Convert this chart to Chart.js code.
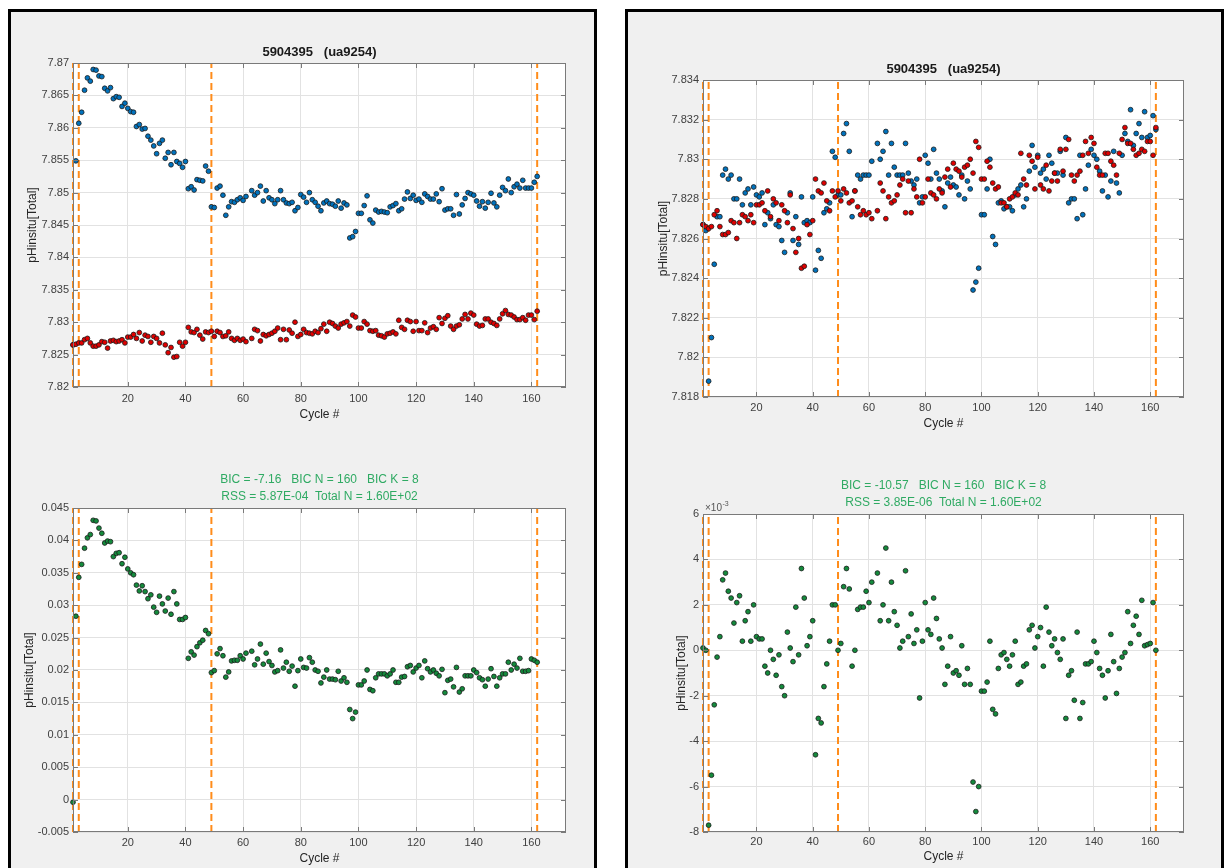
<!DOCTYPE html>
<html>
<head>
<meta charset="utf-8">
<title>5904395 (ua9254) pHinsitu</title>
<script src="https://cdn.jsdelivr.net/npm/chart.js@4.4.0/dist/chart.umd.min.js"></script>
<style>
  html, body { margin: 0; padding: 0; background: #fff; }
  body { width: 1224px; height: 868px; position: relative; overflow: hidden; }
  .panel { position: absolute; top: 9px; height: 900px; background: #f0f0f0; border: 3px solid #000; box-sizing: border-box; }
  #panel-left { left: 8px; width: 589px; }
  #panel-right { left: 625px; width: 599px; }
  canvas { position: absolute; }
</style>
</head>
<body>
<div class="panel" id="panel-left"></div>
<div class="panel" id="panel-right"></div>
<canvas id="chart-tl" width="550" height="382" style="left:26px;top:40px"></canvas>
<canvas id="chart-bl" width="553" height="399" style="left:23px;top:467px"></canvas>
<canvas id="chart-tr" width="537" height="374" style="left:657px;top:57px"></canvas>
<canvas id="chart-br" width="519" height="391" style="left:675px;top:473px"></canvas>
<script>
// cycle numbers (cycle 62 has no profile)
const cycles = [
  1, 2, 3, 4, 5, 6, 7, 8, 9, 10, 11, 12, 13, 14, 15, 16, 17, 18, 19, 20,
  21, 22, 23, 24, 25, 26, 27, 28, 29, 30, 31, 32, 33, 34, 35, 36, 37, 38, 39, 40,
  41, 42, 43, 44, 45, 46, 47, 48, 49, 50, 51, 52, 53, 54, 55, 56, 57, 58, 59, 60, 61,
  63, 64, 65, 66, 67, 68, 69, 70, 71, 72, 73, 74, 75, 76, 77, 78, 79, 80, 81, 82,
  83, 84, 85, 86, 87, 88, 89, 90, 91, 92, 93, 94, 95, 96, 97, 98, 99, 100, 101, 102,
  103, 104, 105, 106, 107, 108, 109, 110, 111, 112, 113, 114, 115, 116, 117, 118, 119, 120, 121, 122,
  123, 124, 125, 126, 127, 128, 129, 130, 131, 132, 133, 134, 135, 136, 137, 138, 139, 140, 141, 142,
  143, 144, 145, 146, 147, 148, 149, 150, 151, 152, 153, 154, 155, 156, 157, 158, 159, 160, 161, 162
];

// left panel: float pH (blue) and reference pH (red)
const leftFloat = [
  7.8265, 7.8549, 7.8607, 7.8624, 7.8658, 7.8677, 7.8672, 7.8690, 7.8689, 7.8680,
  7.8679, 7.8661, 7.8657, 7.8662, 7.8645, 7.8648, 7.8647, 7.8633, 7.8638, 7.8630,
  7.8625, 7.8624, 7.8602, 7.8605, 7.8598, 7.8599, 7.8587, 7.8581, 7.8572, 7.8560,
  7.8576, 7.8581, 7.8553, 7.8562, 7.8543, 7.8562, 7.8548, 7.8545, 7.8539, 7.8548,
  7.8506, 7.8509, 7.8504, 7.8520, 7.8519, 7.8518, 7.8541, 7.8533, 7.8478, 7.8477,
  7.8507, 7.8510, 7.8496, 7.8465, 7.8478, 7.8486, 7.8485, 7.8489, 7.8492, 7.8488, 7.8494,
  7.8503, 7.8496, 7.8500, 7.8510, 7.8487, 7.8503, 7.8492, 7.8489, 7.8483, 7.8489,
  7.8503, 7.8489, 7.8484, 7.8483, 7.8485, 7.8472, 7.8477, 7.8497, 7.8493, 7.8485,
  7.8500, 7.8489, 7.8485, 7.8479, 7.8472, 7.8484, 7.8487, 7.8483, 7.8482, 7.8479,
  7.8487, 7.8476, 7.8484, 7.8481, 7.8430, 7.8432, 7.8440, 7.8468, 7.8468, 7.8480,
  7.8495, 7.8458, 7.8453, 7.8473, 7.8470, 7.8471, 7.8470, 7.8469, 7.8478, 7.8480,
  7.8483, 7.8472, 7.8475, 7.8490, 7.8501, 7.8491, 7.8496, 7.8488, 7.8490, 7.8485,
  7.8498, 7.8494, 7.8490, 7.8490, 7.8498, 7.8486, 7.8506, 7.8473, 7.8475, 7.8475,
  7.8465, 7.8497, 7.8467, 7.8481, 7.8491, 7.8500, 7.8498, 7.8496, 7.8487, 7.8479,
  7.8486, 7.8476, 7.8485, 7.8499, 7.8484, 7.8478, 7.8496, 7.8508, 7.8503, 7.8521,
  7.8500, 7.8509, 7.8513, 7.8507, 7.8519, 7.8507, 7.8507, 7.8507, 7.8516, 7.8525
];
const leftRef = [
  7.8265, 7.8266, 7.8268, 7.8268, 7.8273, 7.8275, 7.8268, 7.8263, 7.8263, 7.8265,
  7.8270, 7.8269, 7.8260, 7.8271, 7.8272, 7.8270, 7.8271, 7.8273, 7.8268, 7.8277,
  7.8277, 7.8281, 7.8275, 7.8284, 7.8271, 7.8280, 7.8278, 7.8269, 7.8278, 7.8275,
  7.8268, 7.8283, 7.8265, 7.8253, 7.8261, 7.8246, 7.8247, 7.8269, 7.8263, 7.8269,
  7.8292, 7.8285, 7.8284, 7.8289, 7.8280, 7.8274, 7.8285, 7.8284, 7.8286, 7.8278,
  7.8286, 7.8284, 7.8278, 7.8279, 7.8285, 7.8275, 7.8272, 7.8275, 7.8272, 7.8274, 7.8270,
  7.8275, 7.8289, 7.8287, 7.8271, 7.8281, 7.8279, 7.8281, 7.8283, 7.8286, 7.8291,
  7.8273, 7.8289, 7.8273, 7.8288, 7.8283, 7.8300, 7.8278, 7.8281, 7.8289, 7.8284,
  7.8283, 7.8282, 7.8286, 7.8284, 7.8290, 7.8297, 7.8286, 7.8300, 7.8298, 7.8294,
  7.8291, 7.8297, 7.8299, 7.8301, 7.8294, 7.8311, 7.8308, 7.8291, 7.8291, 7.8301,
  7.8297, 7.8287, 7.8286, 7.8287, 7.8280, 7.8279, 7.8277, 7.8282, 7.8283, 7.8285,
  7.8282, 7.8303, 7.8292, 7.8289, 7.8303, 7.8301, 7.8286, 7.8301, 7.8287, 7.8287,
  7.8299, 7.8284, 7.8291, 7.8293, 7.8289, 7.8307, 7.8298, 7.8306, 7.8310, 7.8294,
  7.8289, 7.8294, 7.8296, 7.8305, 7.8312, 7.8305, 7.8314, 7.8311, 7.8297, 7.8294,
  7.8295, 7.8305, 7.8305, 7.8300, 7.8298, 7.8295, 7.8305, 7.8313, 7.8318, 7.8312,
  7.8311, 7.8308, 7.8304, 7.8304, 7.8307, 7.8303, 7.8311, 7.8311, 7.8304, 7.8317
];
// left panel residuals
const leftDiff = [
  -0.0004, 0.0283, 0.0343, 0.0363, 0.0388, 0.0404, 0.0409, 0.0431, 0.0430, 0.0419,
  0.0411, 0.0396, 0.0399, 0.0398, 0.0375, 0.0380, 0.0381, 0.0364, 0.0374, 0.0356,
  0.0350, 0.0347, 0.0331, 0.0322, 0.0330, 0.0321, 0.0310, 0.0316, 0.0297, 0.0289,
  0.0314, 0.0302, 0.0291, 0.0311, 0.0286, 0.0321, 0.0302, 0.0278, 0.0278, 0.0281,
  0.0218, 0.0228, 0.0223, 0.0236, 0.0242, 0.0246, 0.0261, 0.0256, 0.0196, 0.0199,
  0.0225, 0.0233, 0.0222, 0.0189, 0.0197, 0.0214, 0.0215, 0.0215, 0.0222, 0.0217, 0.0226,
  0.0229, 0.0208, 0.0217, 0.0240, 0.0209, 0.0226, 0.0213, 0.0207, 0.0197, 0.0199,
  0.0231, 0.0203, 0.0212, 0.0198, 0.0206, 0.0175, 0.0199, 0.0217, 0.0204, 0.0203,
  0.0219, 0.0212, 0.0200, 0.0198, 0.0180, 0.0189, 0.0200, 0.0186, 0.0186, 0.0185,
  0.0198, 0.0183, 0.0188, 0.0181, 0.0139, 0.0125, 0.0135, 0.0177, 0.0177, 0.0183,
  0.0200, 0.0170, 0.0168, 0.0188, 0.0194, 0.0194, 0.0194, 0.0191, 0.0194, 0.0200,
  0.0181, 0.0181, 0.0189, 0.0190, 0.0205, 0.0207, 0.0197, 0.0203, 0.0207, 0.0188,
  0.0214, 0.0202, 0.0197, 0.0200, 0.0195, 0.0191, 0.0201, 0.0165, 0.0184, 0.0186,
  0.0174, 0.0204, 0.0166, 0.0171, 0.0191, 0.0191, 0.0191, 0.0200, 0.0196, 0.0188,
  0.0185, 0.0175, 0.0186, 0.0202, 0.0190, 0.0175, 0.0188, 0.0194, 0.0194, 0.0212,
  0.0200, 0.0209, 0.0203, 0.0218, 0.0198, 0.0198, 0.0199, 0.0217, 0.0215, 0.0212
];

// right panel: corrected float pH (blue) and reference pH (red)
const rightFloat = [
  7.8267, 7.8264, 7.8188, 7.8210, 7.8247, 7.8271, 7.8271, 7.8292, 7.8295, 7.8290,
  7.8292, 7.8280, 7.8280, 7.8290, 7.8277, 7.8283, 7.8285, 7.8277, 7.8286, 7.8282,
  7.8281, 7.8283, 7.8267, 7.8273, 7.8270, 7.8277, 7.8267, 7.8266, 7.8259, 7.8253,
  7.8273, 7.8283, 7.8259, 7.8271, 7.8257, 7.8281, 7.8268, 7.8269, 7.8268, 7.8281,
  7.8244, 7.8254, 7.8250, 7.8273, 7.8275, 7.8278, 7.8304, 7.8301, 7.8282, 7.8282,
  7.8313, 7.8318, 7.8304, 7.8271, 7.8284, 7.8292, 7.8290, 7.8292, 7.8292, 7.8292, 7.8299,
  7.8308, 7.8300, 7.8304, 7.8314, 7.8292, 7.8308, 7.8296, 7.8292, 7.8292, 7.8292,
  7.8308, 7.8293, 7.8289, 7.8287, 7.8290, 7.8278, 7.8281, 7.8302, 7.8298, 7.8290,
  7.8305, 7.8293, 7.8290, 7.8284, 7.8276, 7.8288, 7.8291, 7.8287, 7.8286, 7.8282,
  7.8292, 7.8280, 7.8289, 7.8285, 7.8234, 7.8238, 7.8245, 7.8272, 7.8272, 7.8285,
  7.8300, 7.8261, 7.8257, 7.8278, 7.8279, 7.8275, 7.8276, 7.8276, 7.8274, 7.8282,
  7.8285, 7.8287, 7.8276, 7.8280, 7.8294, 7.8307, 7.8296, 7.8302, 7.8293, 7.8295,
  7.8290, 7.8302, 7.8298, 7.8293, 7.8293, 7.8304, 7.8292, 7.8311, 7.8278, 7.8280,
  7.8280, 7.8270, 7.8302, 7.8272, 7.8285, 7.8297, 7.8305, 7.8302, 7.8300, 7.8294,
  7.8284, 7.8292, 7.8281, 7.8289, 7.8304, 7.8288, 7.8283, 7.8302, 7.8313, 7.8309,
  7.8325, 7.8307, 7.8313, 7.8318, 7.8311, 7.8324, 7.8311, 7.8312, 7.8322, 7.8315
];
const rightRef = [
  7.8267, 7.8266, 7.8265, 7.8266, 7.8272, 7.8274, 7.8266, 7.8262, 7.8262, 7.8263,
  7.8269, 7.8268, 7.8260, 7.8268, 7.8272, 7.8271, 7.8269, 7.8272, 7.8268, 7.8277,
  7.8277, 7.8278, 7.8274, 7.8284, 7.8271, 7.8280, 7.8278, 7.8269, 7.8277, 7.8274,
  7.8268, 7.8282, 7.8265, 7.8253, 7.8260, 7.8245, 7.8246, 7.8267, 7.8262, 7.8269,
  7.8290, 7.8284, 7.8283, 7.8288, 7.8279, 7.8274, 7.8284, 7.8281, 7.8284, 7.8279,
  7.8285, 7.8283, 7.8278, 7.8279, 7.8284, 7.8276, 7.8272, 7.8274, 7.8272, 7.8273, 7.8270,
  7.8274, 7.8288, 7.8284, 7.8270, 7.8281, 7.8278, 7.8279, 7.8282, 7.8287, 7.8290,
  7.8273, 7.8289, 7.8273, 7.8285, 7.8281, 7.8300, 7.8278, 7.8281, 7.8290, 7.8283,
  7.8282, 7.8280, 7.8285, 7.8283, 7.8291, 7.8295, 7.8286, 7.8298, 7.8295, 7.8294,
  7.8291, 7.8296, 7.8297, 7.8300, 7.8293, 7.8309, 7.8306, 7.8290, 7.8290, 7.8299,
  7.8296, 7.8288, 7.8285, 7.8286, 7.8278, 7.8278, 7.8276, 7.8280, 7.8281, 7.8283,
  7.8282, 7.8303, 7.8290, 7.8287, 7.8302, 7.8299, 7.8285, 7.8301, 7.8287, 7.8285,
  7.8297, 7.8284, 7.8289, 7.8293, 7.8289, 7.8305, 7.8294, 7.8305, 7.8310, 7.8292,
  7.8289, 7.8292, 7.8294, 7.8302, 7.8309, 7.8303, 7.8311, 7.8308, 7.8296, 7.8292,
  7.8292, 7.8303, 7.8303, 7.8299, 7.8297, 7.8292, 7.8303, 7.8310, 7.8316, 7.8308,
  7.8308, 7.8305, 7.8302, 7.8303, 7.8305, 7.8304, 7.8309, 7.8309, 7.8302, 7.8316
];
// right panel residuals, in units of 1e-3
const rightDiff = [
  0.1, 0.0, -7.7, -5.5, -2.4, -0.3, 0.6, 3.1, 3.4, 2.6,
  2.3, 1.2, 2.1, 2.4, 0.4, 1.3, 1.7, 0.4, 2.0, 0.6,
  0.5, 0.5, -0.7, -1.0, 0.0, -0.4, -1.1, -0.2, -1.6, -2.0,
  0.8, 0.1, -0.5, 1.9, -0.2, 3.6, 2.3, 0.2, 0.6, 1.3,
  -4.6, -3.0, -3.2, -1.6, -0.6, 0.4, 2.0, 2.0, 0.0, 0.3,
  2.8, 3.6, 2.7, -0.7, 0.0, 1.8, 1.9, 1.9, 2.6, 2.1, 3.0,
  3.4, 1.3, 2.0, 4.5, 1.3, 3.0, 1.7, 1.1, 0.1, 0.4,
  3.5, 0.6, 1.6, 0.3, 0.9, -2.1, 0.4, 2.1, 0.9, 0.7,
  2.3, 1.4, 0.5, 0.1, -1.5, -0.7, 0.6, -1.0, -0.9, -1.1,
  0.2, -1.5, -0.8, -1.5, -5.8, -7.1, -6.0, -1.8, -1.8, -1.4,
  0.4, -2.6, -2.8, -0.8, -0.2, -0.1, -0.4, -0.7, -0.2, 0.4,
  -1.5, -1.4, -0.7, -0.6, 0.9, 1.1, 0.1, 0.6, 1.0, -0.7,
  1.9, 0.8, 0.2, 0.5, -0.1, -0.4, 0.5, -3.0, -1.1, -0.9,
  -2.2, 0.8, -3.0, -2.3, -0.6, -0.6, -0.5, 0.4, -0.1, -0.8,
  -1.1, -2.1, -0.9, 0.7, -0.5, -1.9, -0.8, -0.3, -0.1, 1.7,
  0.3, 1.1, 1.5, 0.7, 2.2, 0.2, 0.25, 0.3, 2.1, 0.0
];

// breakpoint cycles (orange dashed lines)
const breakCycles = [1, 3, 49, 162];

// axes
const xRange = [1, 172];
const xTicks = [20, 40, 60, 80, 100, 120, 140, 160];
const tlYTicks = [7.82, 7.825, 7.83, 7.835, 7.84, 7.845, 7.85, 7.855, 7.86, 7.865, 7.87];
const blYTicks = [-0.005, 0, 0.005, 0.01, 0.015, 0.02, 0.025, 0.03, 0.035, 0.04, 0.045];
const trYTicks = [7.818, 7.82, 7.822, 7.824, 7.826, 7.828, 7.83, 7.832, 7.834];
const brYTicks = [-8, -6, -4, -2, 0, 2, 4, 6];

const floatTitle = '5904395   (ua9254)';
const leftStats = ['BIC = -7.16   BIC N = 160   BIC K = 8', 'RSS = 5.87E-04  Total N = 1.60E+02'];
const rightStats = ['BIC = -10.57   BIC N = 160   BIC K = 8', 'RSS = 3.85E-06  Total N = 1.60E+02'];

const FONT = "'Liberation Sans', Arial, Helvetica, sans-serif";
const BLUE = '#0072bd';
const RED = '#e00000';
const GREEN = '#148a3c';
const ORANGE = '#ff8c1a';
const STATS_GREEN = '#2faa63';
const GRID = '#e2e2e2';
const AXIS = '#7a7a7a';
const TICK_TEXT = '#404040';

// white plot area, box around it and MATLAB-style inner tick marks
const axesBox = {
  id: 'axesBox',
  beforeDraw(chart) {
    const { ctx, chartArea: a } = chart;
    ctx.save();
    ctx.fillStyle = '#fff';
    ctx.fillRect(a.left, a.top, a.width, a.height);
    ctx.restore();
  },
  afterDraw(chart, args, opts) {
    const { ctx, chartArea: a, scales: { x, y } } = chart;
    ctx.save();
    ctx.strokeStyle = AXIS;
    ctx.lineWidth = 1;
    ctx.strokeRect(Math.round(a.left) + 0.5, Math.round(a.top) + 0.5, Math.round(a.width) - 1, Math.round(a.height) - 1);
    ctx.beginPath();
    x.ticks.forEach(t => {
      const px = Math.round(x.getPixelForValue(t.value)) + 0.5;
      ctx.moveTo(px, a.bottom); ctx.lineTo(px, a.bottom - 5);
      ctx.moveTo(px, a.top); ctx.lineTo(px, a.top + 5);
    });
    y.ticks.forEach(t => {
      const py = Math.round(y.getPixelForValue(t.value)) + 0.5;
      ctx.moveTo(a.left, py); ctx.lineTo(a.left + 5, py);
      ctx.moveTo(a.right, py); ctx.lineTo(a.right - 5, py);
    });
    ctx.stroke();
    if (opts.exponent) {
      ctx.fillStyle = '#555';
      ctx.textBaseline = 'alphabetic';
      ctx.font = '10px ' + FONT;
      ctx.fillText('\u00d710', a.left + 2, a.top - 3);
      const w = ctx.measureText('\u00d710').width;
      ctx.font = '7px ' + FONT;
      ctx.fillText('-3', a.left + 2 + w + 0.5, a.top - 8);
    }
    ctx.restore();
  }
};

function makePlot(id, o) {
  const yMin = o.yTicks[0];
  const yMax = o.yTicks[o.yTicks.length - 1];
  const datasets = o.series.map(s => ({
    type: 'scatter',
    data: cycles.map((c, i) => ({ x: c, y: s.values[i] })),
    backgroundColor: s.color,
    borderColor: '#1a1a1a',
    borderWidth: 0.8,
    pointRadius: 2.4,
    order: s.order,
    clip: 4
  }));
  breakCycles.forEach(c => datasets.push({
    type: 'line',
    data: [{ x: c, y: yMin }, { x: c, y: yMax }],
    borderColor: ORANGE,
    borderWidth: 2,
    borderDash: [7, 4],
    pointRadius: 0,
    order: 10,
    clip: 2
  }));

  return new Chart(document.getElementById(id), {
    type: 'scatter',
    data: { datasets },
    plugins: [axesBox],
    options: {
      responsive: false,
      animation: false,
      events: [],
      layout: { padding: { left: 0, top: 0, right: 10, bottom: 0 } },
      plugins: {
        legend: { display: false },
        tooltip: { enabled: false },
        title: {
          display: true,
          fullSize: false,
          text: o.title,
          color: o.titleColor,
          font: { family: FONT, size: o.titleSize, weight: o.titleWeight, lineHeight: o.titleLineHeight },
          padding: { top: 4, bottom: 3 }
        },
        axesBox: { exponent: !!o.exponent }
      },
      scales: {
        x: {
          type: 'linear',
          min: xRange[0],
          max: xRange[1],
          afterBuildTicks: s => { s.ticks = xTicks.map(v => ({ value: v })); },
          afterFit: s => { s.height = o.xHeight; },
          grid: { color: GRID, drawTicks: false },
          border: { display: false },
          ticks: { padding: o.xPad, color: TICK_TEXT, font: { family: FONT, size: 11 } },
          title: {
            display: true, text: 'Cycle #', color: '#262626',
            font: { family: FONT, size: 12, lineHeight: '14px' },
            padding: { top: 0, bottom: 0 }
          }
        },
        y: {
          type: 'linear',
          min: yMin,
          max: yMax,
          afterBuildTicks: s => { s.ticks = o.yTicks.map(v => ({ value: v })); },
          afterFit: s => { s.width = o.yWidth; },
          grid: { color: GRID, drawTicks: false },
          border: { display: false },
          ticks: { padding: 4, color: TICK_TEXT, autoSkip: false, font: { family: FONT, size: 11 }, callback: v => String(v) },
          title: {
            display: true, text: 'pHinsitu[Total]', color: '#262626',
            font: { family: FONT, size: 12, lineHeight: '14px' },
            padding: { top: 0, bottom: 0 }
          }
        }
      }
    }
  });
}

makePlot('chart-tl', {
  yTicks: tlYTicks, yWidth: 47, xHeight: 35, xPad: 5,
  title: floatTitle, titleColor: '#1a1a1a', titleSize: 13, titleWeight: 'bold', titleLineHeight: '16px',
  series: [{ values: leftRef, color: RED, order: 1 }, { values: leftFloat, color: BLUE, order: 2 }]
});
makePlot('chart-bl', {
  yTicks: blYTicks, yWidth: 50, xHeight: 34, xPad: 4,
  title: leftStats, titleColor: STATS_GREEN, titleSize: 12, titleWeight: 'normal', titleLineHeight: '17px',
  series: [{ values: leftDiff, color: GREEN, order: 1 }]
});
makePlot('chart-tr', {
  yTicks: trYTicks, yWidth: 46, xHeight: 34, xPad: 4,
  title: floatTitle, titleColor: '#1a1a1a', titleSize: 13, titleWeight: 'bold', titleLineHeight: '16px',
  series: [{ values: rightRef, color: RED, order: 1 }, { values: rightFloat, color: BLUE, order: 2 }]
});
makePlot('chart-br', {
  yTicks: brYTicks, yWidth: 28, xHeight: 32, xPad: 3, exponent: true,
  title: rightStats, titleColor: STATS_GREEN, titleSize: 12, titleWeight: 'normal', titleLineHeight: '17px',
  series: [{ values: rightDiff, color: GREEN, order: 1 }]
});
</script>
</body>
</html>
